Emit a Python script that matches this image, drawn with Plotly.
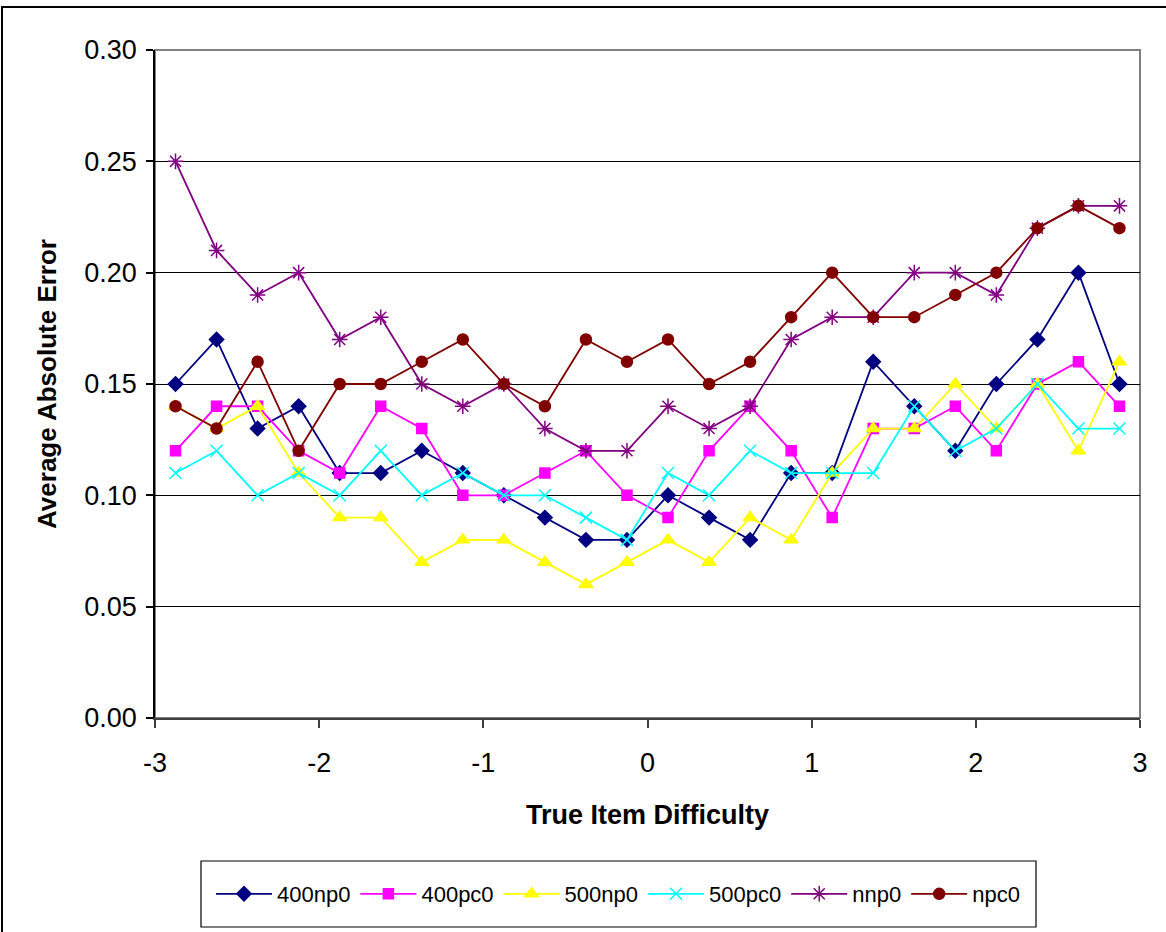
import plotly.graph_objects as go

# Item difficulty bin centres (-2.875 .. 2.875, step 0.25)
difficulty = [-2.875, -2.625, -2.375, -2.125, -1.875, -1.625, -1.375, -1.125,
              -0.875, -0.625, -0.375, -0.125, 0.125, 0.375, 0.625, 0.875,
              1.125, 1.375, 1.625, 1.875, 2.125, 2.375, 2.625, 2.875]

err_400np0 = [0.15, 0.17, 0.13, 0.14, 0.11, 0.11, 0.12, 0.11, 0.10, 0.09, 0.08, 0.08,
              0.10, 0.09, 0.08, 0.11, 0.11, 0.16, 0.14, 0.12, 0.15, 0.17, 0.20, 0.15]
err_400pc0 = [0.12, 0.14, 0.14, 0.12, 0.11, 0.14, 0.13, 0.10, 0.10, 0.11, 0.12, 0.10,
              0.09, 0.12, 0.14, 0.12, 0.09, 0.13, 0.13, 0.14, 0.12, 0.15, 0.16, 0.14]
err_500np0 = [0.14, 0.13, 0.14, 0.11, 0.09, 0.09, 0.07, 0.08, 0.08, 0.07, 0.06, 0.07,
              0.08, 0.07, 0.09, 0.08, 0.11, 0.13, 0.13, 0.15, 0.13, 0.15, 0.12, 0.16]
err_500pc0 = [0.11, 0.12, 0.10, 0.11, 0.10, 0.12, 0.10, 0.11, 0.10, 0.10, 0.09, 0.08,
              0.11, 0.10, 0.12, 0.11, 0.11, 0.11, 0.14, 0.12, 0.13, 0.15, 0.13, 0.13]
err_nnp0 = [0.25, 0.21, 0.19, 0.20, 0.17, 0.18, 0.15, 0.14, 0.15, 0.13, 0.12, 0.12,
            0.14, 0.13, 0.14, 0.17, 0.18, 0.18, 0.20, 0.20, 0.19, 0.22, 0.23, 0.23]
err_npc0 = [0.14, 0.13, 0.16, 0.12, 0.15, 0.15, 0.16, 0.17, 0.15, 0.14, 0.17, 0.16,
            0.17, 0.15, 0.16, 0.18, 0.20, 0.18, 0.18, 0.19, 0.20, 0.22, 0.23, 0.22]

series_names = ["400np0", "400pc0", "500np0", "500pc0", "nnp0", "npc0"]
series_values = [err_400np0, err_400pc0, err_500np0, err_500pc0, err_nnp0, err_npc0]

x_ticks = [-3, -2, -1, 0, 1, 2, 3]
y_ticks = [0.00, 0.05, 0.10, 0.15, 0.20, 0.25, 0.30]

styles = [
    dict(color="#000080", symbol="diamond", size=11),
    dict(color="#FF00FF", symbol="square", size=10),
    dict(color="#FFFF00", symbol="triangle-up", size=12),
    dict(color="#00FFFF", symbol="x-thin-open", size=12),
    dict(color="#800080", symbol="asterisk-open", size=13),
    dict(color="#800000", symbol="circle", size=11),
]

FONT = "Liberation Sans, Arial, sans-serif"

fig = go.Figure()
for name, vals, st in zip(series_names, series_values, styles):
    fig.add_trace(go.Scatter(
        x=difficulty, y=vals, name=name, mode="lines+markers",
        line=dict(color=st["color"], width=1.8),
        marker=dict(symbol=st["symbol"], size=st["size"], color=st["color"],
                    line=dict(color=st["color"], width=1.5)),
    ))

W, H = 1166, 932
L, R, T, B = 155, 1140, 50, 718


def px_x(p):
    return (p - L) / (R - L)


def px_y(p):
    return (B - p) / (B - T)


shapes = [
    # plot area frame
    dict(type="rect", xref="paper", yref="paper", x0=0, x1=1, y0=0, y1=1,
         line=dict(color="#808080", width=2), layer="below"),
    # outer chart border
    dict(type="rect", xref="paper", yref="paper",
         x0=px_x(2), x1=px_x(1175), y0=px_y(945), y1=px_y(7),
         line=dict(color="black", width=2)),
    # legend box
    dict(type="rect", xref="paper", yref="paper",
         x0=px_x(201), x1=px_x(1036), y0=px_y(927), y1=px_y(861),
         line=dict(color="black", width=1.2)),
]

fig.update_layout(
    width=W, height=H,
    margin=dict(l=L, r=W - R, t=T, b=H - B, pad=0),
    paper_bgcolor="white", plot_bgcolor="white",
    font=dict(family=FONT, color="black"),
    shapes=shapes,
    showlegend=True,
    legend=dict(orientation="h", x=px_x(618), y=px_y(894),
                xanchor="center", yanchor="middle",
                font=dict(size=22, family=FONT),
                itemwidth=56, bgcolor="rgba(0,0,0,0)", borderwidth=0),
    xaxis=dict(range=[-3, 3], tickvals=x_ticks, ticktext=[str(v) for v in x_ticks],
               ticks="outside", ticklen=8, tickcolor="#404040", tickwidth=1.5,
               showline=True, linecolor="#404040", linewidth=1.5,
               showgrid=False, zeroline=False, ticklabelstandoff=12,
               tickfont=dict(size=27, family=FONT),
               title=dict(text="<b>True Item Difficulty</b>", standoff=28,
                          font=dict(size=27, family=FONT))),
    yaxis=dict(range=[0, 0.30], tickvals=y_ticks, ticktext=[f"{v:.2f}" for v in y_ticks],
               ticks="outside", ticklen=7, tickcolor="black", tickwidth=1.5,
               showline=True, linecolor="black", linewidth=1.5,
               showgrid=True, gridcolor="black", gridwidth=1, zeroline=False,
               ticklabelstandoff=4,
               tickfont=dict(size=27, family=FONT),
               title=dict(text="<b>Average Absolute Error</b>", standoff=20,
                          font=dict(size=26, family=FONT))),
)

fig.write_html("out.html")
